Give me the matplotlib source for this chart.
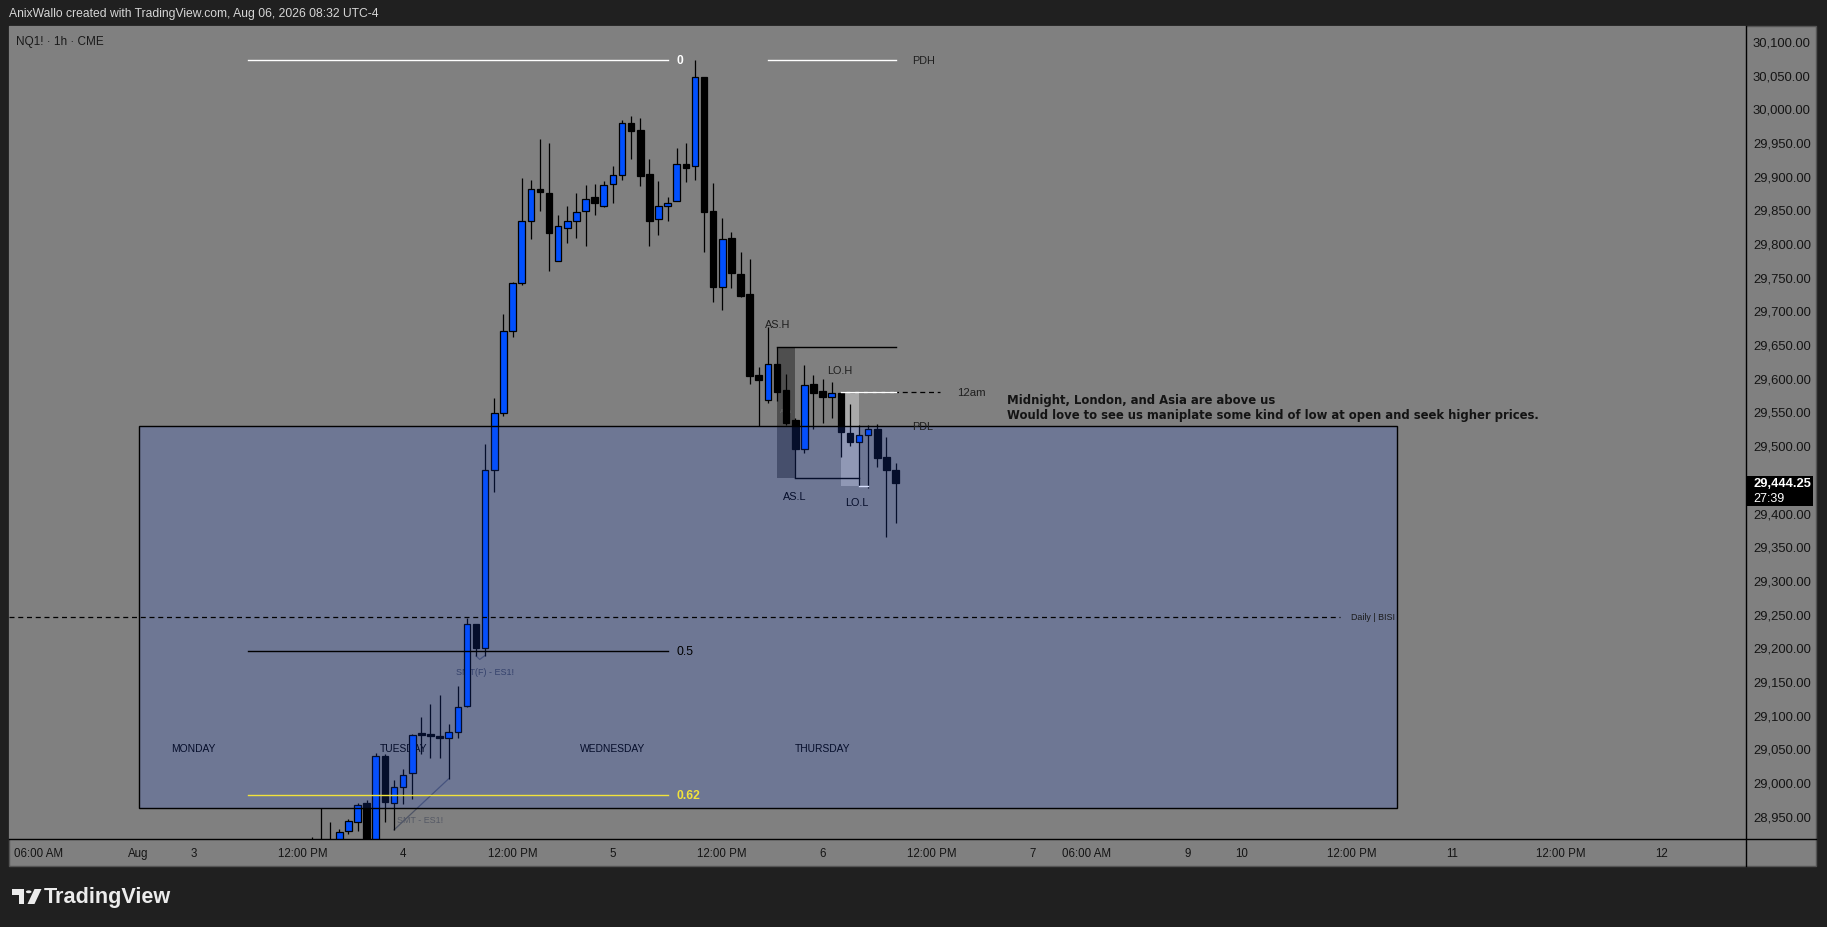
import matplotlib
matplotlib.use("Agg")
import matplotlib.pyplot as plt
from matplotlib.patches import Rectangle, Polygon, Circle
from matplotlib.lines import Line2D

W, H = 1827, 928
BG = "#202020"
PANEL = "#808080"
BLUE = "#0050ff"
plt.rcParams["font.family"] = ["Liberation Sans", "DejaVu Sans"]

# hourly bars, x = trading-hour index counted from Aug 3 00:00 (23 bars a day)
bar_t = list(range(13, 78))
opens = [28880, 28890, 28900, 28905, 28927, 28940, 28969, 28895, 29039, 28969,
         28992, 29013, 29071.5, 29069, 29069, 29065, 29075, 29113, 29234, 29199,
         29463, 29547, 29669, 29740, 29832, 29880, 29874, 29774, 29823, 29832,
         29847, 29868, 29855, 29887, 29901, 29978, 29968, 29902, 29835, 29855,
         29863, 29917, 29915, 30046, 29847, 29735, 29807, 29754, 29724, 29604,
         29567, 29620, 29582, 29538, 29495, 29591, 29580, 29572, 29578, 29518,
         29504, 29515, 29524, 29482, 29463]
highs = [28919, 28961, 28940, 28930, 28945, 28969, 28973, 29043, 29041, 29003,
         29020, 29071, 29097, 29116, 29129, 29086, 29142, 29243, 29235, 29502,
         29570, 29695, 29742, 29896, 29894, 29954, 29948, 29842, 29855, 29874,
         29886, 29888, 29892, 29914, 29983, 29988, 29985, 29925, 29892, 29869,
         29941, 29948, 30071, 30046, 29889, 29837, 29817, 29786, 29777, 29616,
         29675, 29646, 29606, 29540, 29619, 29604, 29598, 29594, 29578.5, 29561,
         29530, 29530, 29531, 29512, 29473]
lows = [28860, 28870, 28880, 28895, 28923, 28928, 28880, 28885, 28940, 28929,
        28967, 28975, 29042, 29035, 29036, 29005, 29065, 29112, 29187, 29187,
        29430, 29543, 29660, 29738, 29806, 29847, 29759, 29774, 29800, 29808,
        29796, 29841, 29854, 29859, 29894, 29924, 29884, 29796, 29812, 29832,
        29863, 29890, 29893, 29786, 29712, 29700, 29733, 29720, 29591, 29528,
        29562, 29566, 29530, 29451, 29489, 29524, 29533, 29541, 29483, 29499,
        29440, 29436, 29467, 29363, 29385]
closes = [28900, 28905, 28910, 28926, 28942, 28966, 28890, 29038, 28970, 28992,
          29011, 29070, 29070.5, 29068, 29065, 29074, 29112, 29234, 29199, 29463,
          29547, 29669, 29740, 29832, 29880, 29875, 29815, 29825, 29832, 29846,
          29866, 29859, 29886, 29901, 29978, 29967, 29900, 29833, 29855, 29860,
          29917, 29912, 30046, 29846, 29735, 29806, 29755, 29722, 29603, 29597,
          29620, 29579, 29533, 29494, 29590, 29578, 29572, 29578, 29520, 29504,
          29515, 29524, 29481, 29463, 29444.25]
last_price = 29444.25
countdown = "27:39"

time_tick_pos = [-17, -6, 0, 12, 23, 35, 46, 58, 69, 81, 92, 98, 109, 115, 127, 138, 150, 161]
time_tick_lab = ["06:00 AM", "Aug", "3", "12:00 PM", "4", "12:00 PM", "5", "12:00 PM", "6",
                 "12:00 PM", "7", "06:00 AM", "9", "10", "12:00 PM", "11", "12:00 PM", "12"]
price_ticks = [28950, 29000, 29050, 29100, 29150, 29200, 29250, 29300, 29350, 29400,
               29450, 29500, 29550, 29600, 29650, 29700, 29750, 29800, 29850, 29900,
               29950, 30000, 30050, 30100]

# drawings on the chart
zone_t = [-6, 132]
zone_p = [28962, 29529]
bisi_p = 29245
bisi_end = 125.7
fib_t = [6, 52]
fib_names = ["0", "0.5", "0.62"]
fib_prices = [30072, 29194, 28981]
fib_colors = ["white", "black", "#f2e33a"]
pdh_p = 30072
pdh_t = [63, 77]
asia_t = [64, 66]
asia_hi, asia_lo = 29646, 29451
asia_hi_end, asia_lo_end = 77, 73
lon_t = [71, 73]
lon_hi, lon_lo = 29578.5, 29440
lon_lo_end = 74
midnight_end = 81.9
day_t = [0, 23, 46, 69]
day_names = ["MONDAY", "TUESDAY", "WEDNESDAY", "THURSDAY"]
day_p = 29050
smt_t, smt_p = [22, 28], [28929, 29005]
smtf_t, smtf_p = [31, 31.4, 32], [29187, 29182, 29188]
note = ("Midnight, London, and Asia are above us\n"
        "Would love to see us maniplate some kind of low at open and seek higher prices.")


def fx(x):
    return x / W


def fy(y):
    return 1 - y / H


fig = plt.figure(figsize=(W / 100, H / 100), dpi=100, facecolor=BG)
fig.patches.append(Rectangle((fx(9), fy(867)), fx(1816) - fx(9), fy(27) - fy(867),
                             transform=fig.transFigure, facecolor=PANEL,
                             edgecolor="#555555", lw=1, zorder=-5))
ax = fig.add_axes([fx(9), fy(840), fx(1746) - fx(9), fy(27) - fy(840)])
ax.set_facecolor(PANEL)
ax.set_xlim(-20.22, 170.26)
ax.set_ylim(28915.5, 30122.1)
for s in ax.spines.values():
    s.set_visible(False)

# candles
for t, o, hh, ll, c in zip(bar_t, opens, highs, lows, closes):
    ax.plot([t, t], [ll, hh], color="black", lw=0.9, zorder=2, solid_capstyle="butt")
    b0, b1 = min(o, c), max(o, c)
    ax.add_patch(Rectangle((t - 0.36, b0), 0.72, max(b1 - b0, 3),
                           facecolor=BLUE if c >= o else "black",
                           edgecolor="black", lw=0.9, zorder=2.1))

# session boxes
ax.add_patch(Rectangle((asia_t[0], asia_lo), asia_t[1] - asia_t[0], asia_hi - asia_lo,
                       facecolor=(0, 0, 0, 0.38), edgecolor="none", zorder=1.8))
ax.add_patch(Rectangle((lon_t[0], lon_lo), lon_t[1] - lon_t[0], lon_hi - lon_lo,
                       facecolor=(1, 1, 1, 0.33), edgecolor="none", zorder=1.8))
ax.text(sum(asia_t) / 2, 29552, "Asia", fontsize=4.5, color="#707070", ha="center", va="center", zorder=1.9)
ax.plot([asia_t[0], asia_hi_end], [asia_hi, asia_hi], color="black", lw=1, zorder=2.5)
ax.plot([asia_t[1], asia_lo_end], [asia_lo, asia_lo], color="black", lw=1, zorder=2.5)
ax.plot([lon_t[0], midnight_end], [lon_hi, lon_hi], color="black", lw=0.9, ls=(0, (4, 3)), zorder=2.4)
ax.plot([lon_t[0], asia_hi_end], [lon_hi, lon_hi], color="white", lw=1, zorder=2.5)
ax.plot([lon_t[1], lon_lo_end], [lon_lo, lon_lo], color="white", lw=1, zorder=2.5)

# day labels and smt notes sit under the zone tint
for t, name in zip(day_t, day_names):
    ax.text(t, day_p, name, fontsize=7.4, color="black", ha="center", va="center", zorder=1.5)
ax.plot(smt_t, smt_p, color="#4f5566", lw=0.9, zorder=1.6)
ax.plot(smtf_t, smtf_p, color="#4f5566", lw=0.9, zorder=1.6)
ax.text(24.9, 28944, "SMT - ES1!", fontsize=6.4, color="#555965", ha="center", va="center", zorder=1.5)
ax.text(32.0, 29164, "SMT(F) - ES1!", fontsize=6.5, color="#3a4050", ha="center", va="center", zorder=1.5)
ax.text(65.9, 29424, "AS.L", fontsize=7.8, color="black", ha="center", va="center", zorder=1.5)
ax.text(72.8, 29415, "LO.L", fontsize=7.8, color="black", ha="center", va="center", zorder=1.5)

# the big zone
ax.add_patch(Rectangle((zone_t[0], zone_p[0]), zone_t[1] - zone_t[0], zone_p[1] - zone_p[0],
                       facecolor=(0.12, 0.31, 0.94, 0.18), edgecolor="black", lw=1, zorder=3))
ax.plot([-20.22, bisi_end], [bisi_p, bisi_p], color="black", lw=0.9, ls=(0, (4, 3)), zorder=3.5)
ax.text(bisi_end + 1.2, bisi_p, "Daily | BISI", fontsize=6.4, color="#1a1a1a", ha="left", va="center", zorder=4)

# fib levels
for name, p, col in zip(fib_names, fib_prices, fib_colors):
    ax.plot(fib_t, [p, p], color=col, lw=1, zorder=4)
    ax.text(fib_t[1] + 0.95, p, name, fontsize=8.7, color=col, ha="left", va="center",
            weight="bold" if name != "0.5" else "normal", zorder=4)

ax.plot(pdh_t, [pdh_p, pdh_p], color="white", lw=1, zorder=4)
ax.text(78.8, pdh_p, "PDH", fontsize=7.8, color="#1e1e1e", ha="left", va="center", zorder=4)
ax.text(78.8, zone_p[1], "PDL", fontsize=7.8, color="#1e1e1e", ha="left", va="center", zorder=4)
ax.text(83.8, lon_hi, "12am", fontsize=8.2, color="#1e1e1e", ha="left", va="center", zorder=4)
ax.text(64.1, 29680, "AS.H", fontsize=7.8, color="#1e1e1e", ha="center", va="center", zorder=4)
ax.text(70.9, 29612, "LO.H", fontsize=7.8, color="#1e1e1e", ha="center", va="center", zorder=4)
ax.text(89.2, 29557, note, fontsize=8.35, weight="bold", family="DejaVu Sans", color="#141414",
        ha="left", va="center", linespacing=1.15, zorder=4)

# axes
ax.yaxis.tick_right()
ax.set_yticks(price_ticks, [f"{p:,.2f}" for p in price_ticks])
ax.tick_params(axis="y", length=0, pad=5, labelsize=9.4, labelcolor="#141414")
ax.set_xticks(time_tick_pos, time_tick_lab)
ax.tick_params(axis="x", length=0, pad=6, labelsize=8.3, labelcolor="#141414")

fig.add_artist(Line2D([fx(1746), fx(1746)], [fy(27), fy(867)], color="black", lw=1))
fig.add_artist(Line2D([fx(9), fx(1816)], [fy(840), fy(840)], color="black", lw=1))

# last price tag
fig.patches.append(Rectangle((fx(1746), fy(507)), fx(1813) - fx(1746), fy(477) - fy(507),
                             transform=fig.transFigure, facecolor="black", zorder=5))
fig.text(fx(1753), fy(484.5), f"{last_price:,.2f}", color="white", fontsize=9.3, weight="bold",
         va="center", ha="left", zorder=6)
fig.text(fx(1753), fy(499.5), countdown, color="white", fontsize=9, va="center", ha="left", zorder=6)

# header and symbol
fig.text(fx(9), fy(14), "AnixWallo created with TradingView.com, Aug 06, 2026 08:32 UTC-4",
         color="#d6d6d6", fontsize=8.7, va="center", ha="left")
fig.text(fx(16), fy(42), "NQ1! \u00b7 1h \u00b7 CME", color="#1a1a1a", fontsize=8.5, va="center", ha="left",
         zorder=6)

# TradingView logo
LOGO = "#ececec"
fig.patches.append(Polygon([(fx(12), fy(890)), (fx(24), fy(890)), (fx(24), fy(905)), (fx(18.5), fy(905)),
                            (fx(18.5), fy(895.5)), (fx(12), fy(895.5))], closed=True,
                           transform=fig.transFigure, facecolor=LOGO, edgecolor="none"))
fig.patches.append(Circle((fx(28.7), fy(892.8)), 2.8 / W, transform=fig.transFigure,
                          facecolor=LOGO, edgecolor="none"))
fig.patches.append(Polygon([(fx(34.5), fy(890)), (fx(41.5), fy(890)), (fx(34.5), fy(905)), (fx(27.5), fy(905))],
                           closed=True, transform=fig.transFigure, facecolor=LOGO, edgecolor="none"))
fig.text(fx(44), fy(897.5), "TradingView", color=LOGO, fontsize=15.6, weight="bold",
         va="center", ha="left")

fig.savefig("out.png", dpi=100, facecolor=BG)
